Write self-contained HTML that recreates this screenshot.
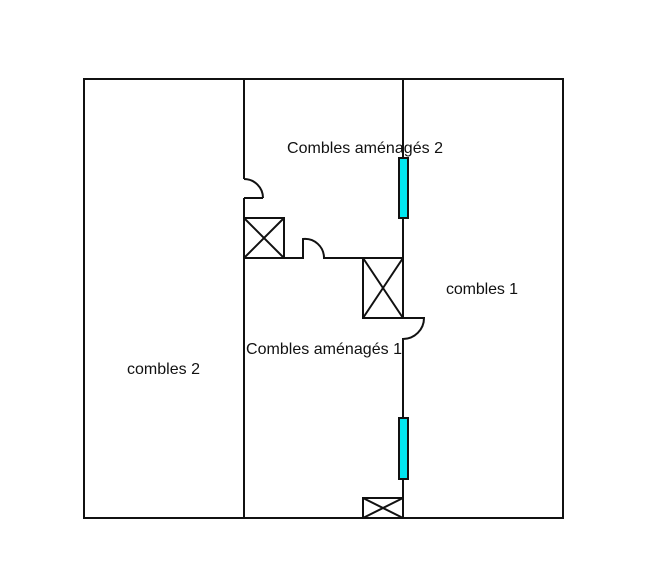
<!DOCTYPE html>
<html><head><style>body{margin:0;background:#fff}svg{display:block}</style></head>
<body>
<svg width="655" height="562" xmlns="http://www.w3.org/2000/svg" font-family="Liberation Sans, sans-serif" font-size="16" fill="none" stroke="#111" stroke-width="2">
<rect x="84" y="79" width="479" height="439"/>
<path d="M244 79V179M244 198V518M244 198H263M244 179A19 19 0 0 1 263 198"/>
<path d="M244 258H303V239A19 19 0 0 1 324 258H403"/>
<path d="M403 79V318H424A21 21 0 0 1 403 339V518"/>
<rect x="244" y="218" width="40" height="40"/>
<path d="M244 218L284 258M284 218L244 258"/>
<rect x="363" y="258" width="40" height="60"/>
<path d="M363 258L403 318M403 258L363 318"/>
<rect x="363" y="498" width="40" height="20"/>
<path d="M363 498L403 518M403 498L363 518"/>
<rect x="399" y="158" width="9" height="60" fill="#00e5f0"/>
<rect x="399" y="418" width="9" height="61" fill="#00e5f0"/>
<g fill="#111" stroke="none">
<text x="287" y="153" textLength="156">Combles aménagés 2</text>
<text x="446" y="294" textLength="72">combles 1</text>
<text x="246" y="354" textLength="156">Combles aménagés 1</text>
<text x="127" y="374" textLength="73">combles 2</text>
</g>
</svg>
</body></html>
